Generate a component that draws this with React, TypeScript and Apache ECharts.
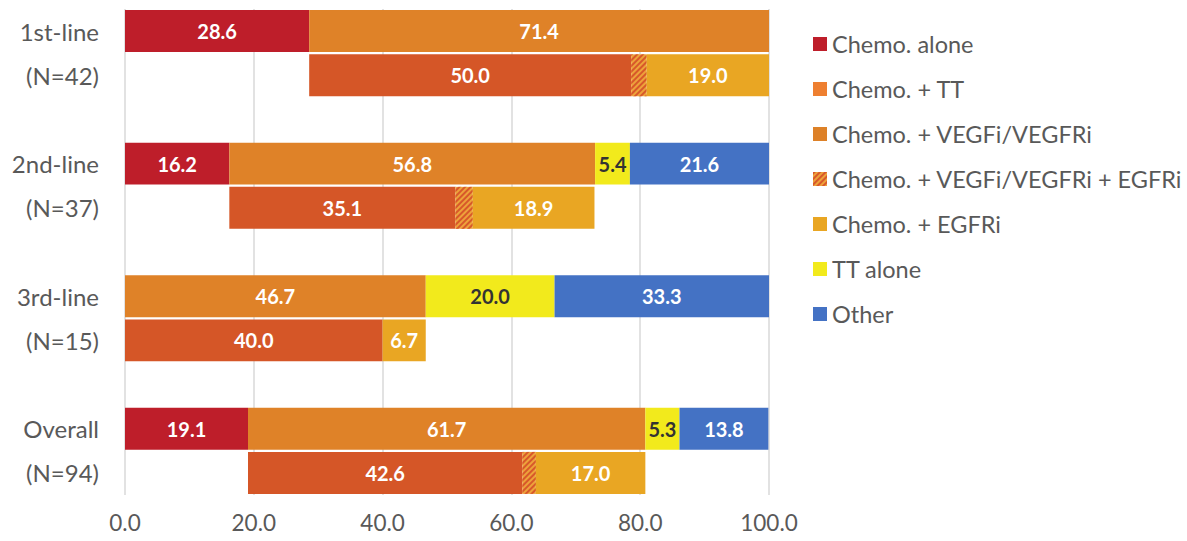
import React, { useEffect, useRef } from "react";
import * as echarts from "echarts";

const groups = ["1st-line", "2nd-line", "3rd-line", "Overall"];
const groupN = ["(N=42)", "(N=37)", "(N=15)", "(N=94)"];
const chemoAlone = [28.6, 16.2, 0, 19.1];
const chemoTT = [71.4, 56.8, 46.7, 61.7];
const ttAlone = [0, 5.4, 20.0, 5.3];
const other = [0, 21.6, 33.3, 13.8];
const chemoVegf = [50.0, 35.1, 40.0, 42.6];
const chemoVegfEgfr = [2.4, 2.7, 0, 2.1];
const chemoEgfr = [19.0, 18.9, 6.7, 17.0];
const xTicks = [0, 20, 40, 60, 80, 100];

const textColor = "#595959";
const FONT = "Lato, 'Open Sans', sans-serif";

export default function App() {
  const ref = useRef<HTMLDivElement>(null);
  useEffect(() => {
    document.body.style.margin = "0";
    if (!ref.current) return;
    const chart = echarts.init(ref.current, undefined, { renderer: "svg" });

    const categories: string[] = [];
    groups.forEach((g, i) => {
      categories.push(g, groupN[i]);
      if (i < groups.length - 1) categories.push(" ".repeat(i + 1));
    });
    const rowIndex = (i: number, bottom: boolean) => i * 3 + (bottom ? 1 : 0);
    const build = (vals: number[], bottom: boolean) => {
      const arr: (number | string)[] = categories.map(() => "-");
      vals.forEach((v, i) => {
        arr[rowIndex(i, bottom)] = v;
      });
      return arr;
    };

    const labelFmt = (p: any) => {
      const v = Number(p.value);
      return v > 0 ? v.toFixed(1) : "";
    };
    const mkLabel = (color: string) => ({
      show: true,
      position: "inside",
      color,
      fontFamily: FONT,
      fontWeight: "bold",
      fontSize: 20,
      formatter: labelFmt,
    });
    const base = {
      type: "bar",
      stack: "total",
      barCategoryGap: "5%",
      emphasis: { disabled: true },
    };

    const series: any[] = [
      {
        ...base,
        name: "Chemo. alone",
        data: build(chemoAlone, false),
        itemStyle: { color: "#BE1E2A" },
        label: mkLabel("#fff"),
      },
      {
        ...base,
        name: "offset",
        data: build(chemoAlone, true),
        itemStyle: { color: "transparent" },
        label: { show: false },
        silent: true,
      },
      {
        ...base,
        name: "Chemo. + TT",
        data: build(chemoTT, false),
        itemStyle: { color: "#DF8228" },
        label: mkLabel("#fff"),
      },
      {
        ...base,
        name: "Chemo. + VEGFi/VEGFRi",
        data: build(chemoVegf, true),
        itemStyle: { color: "#D55627" },
        label: mkLabel("#fff"),
      },
      {
        ...base,
        name: "Chemo. + VEGFi/VEGFRi + EGFRi",
        data: build(chemoVegfEgfr, true),
        itemStyle: {
          color: "#EDA23A",
          decal: {
            symbol: "rect",
            color: "#D8582A",
            dashArrayX: [1, 0],
            dashArrayY: [2, 2],
            rotation: -Math.PI / 4,
            symbolSize: 1,
          },
        },
        label: { show: false },
      },
      {
        ...base,
        name: "Chemo. + EGFRi",
        data: build(chemoEgfr, true),
        itemStyle: { color: "#E9A623" },
        label: mkLabel("#fff"),
      },
      {
        ...base,
        name: "TT alone",
        data: build(ttAlone, false),
        itemStyle: { color: "#F2EA1C" },
        label: mkLabel("#333"),
      },
      {
        ...base,
        name: "Other",
        data: build(other, false),
        itemStyle: { color: "#4472C4" },
        label: mkLabel("#fff"),
      },
    ];

    chart.setOption({
      animation: false,
      grid: { left: 125, right: 418, top: 9, bottom: 46, containLabel: false },
      legend: {
        orient: "vertical",
        left: 808,
        top: 27,
        itemWidth: 14,
        itemHeight: 14,
        itemGap: 21,
        icon: "rect",
        textStyle: {
          color: textColor,
          fontSize: 23.5,
          lineHeight: 24,
          fontFamily: FONT,
        },
        data: [
          { name: "Chemo. alone", itemStyle: { color: "#BE1E2A" } },
          { name: "Chemo. + TT", itemStyle: { color: "#EE7F30" } },
          { name: "Chemo. + VEGFi/VEGFRi", itemStyle: { color: "#DD8128" } },
          { name: "Chemo. + VEGFi/VEGFRi + EGFRi" },
          { name: "Chemo. + EGFRi", itemStyle: { color: "#E9A623" } },
          { name: "TT alone", itemStyle: { color: "#F2EA1C" } },
          { name: "Other", itemStyle: { color: "#4472C4" } },
        ],
        selectedMode: false,
      },
      xAxis: {
        type: "value",
        min: xTicks[0],
        max: xTicks[xTicks.length - 1],
        interval: 20,
        axisLine: { show: false },
        axisTick: { show: false },
        splitLine: { show: true, lineStyle: { color: "#D9D9D9", width: 1.5 } },
        axisLabel: {
          color: textColor,
          fontSize: 22.5,
          fontFamily: FONT,
          margin: 16,
          formatter: (v: number) => v.toFixed(1),
        },
      },
      yAxis: {
        type: "category",
        inverse: true,
        data: categories,
        axisLine: { show: false },
        axisTick: { show: false },
        axisLabel: {
          color: textColor,
          fontSize: 24,
          fontFamily: FONT,
          margin: 26,
          interval: 0,
        },
      },
      series,
    });
    return () => chart.dispose();
  }, []);
  return <div ref={ref} style={{ width: 1187, height: 541 }} />;
}
